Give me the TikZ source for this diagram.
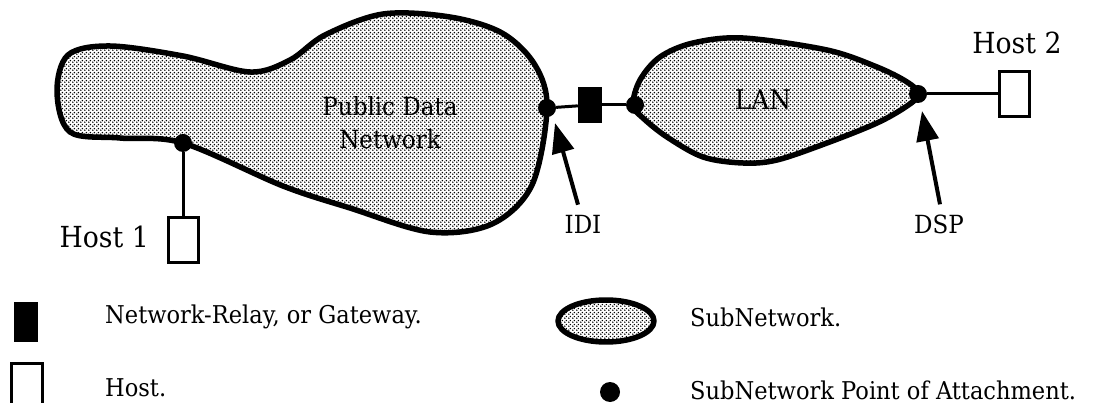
\documentclass[tikz,border=0pt]{standalone}
\usepackage{fontspec}
\setmainfont{DejaVu Serif}[FakeStretch=0.92]
\usetikzlibrary{arrows.meta,patterns.meta}
\tikzdeclarepattern{
  name=halftone,
  type=uncolored,
  bounding box={(0pt,0pt) and (4pt,4pt)},
  tile size={(4pt,4pt)},
  code={\fill (1pt,1pt) circle (0.95pt); \fill (3pt,3pt) circle (0.95pt);}
}
\begin{document}
\begin{tikzpicture}[x=1pt,y=-1pt,
  subnet/.style={draw=black, line width=5.5pt, pattern=halftone, pattern color=black, line join=round},
  attach/.style={circle, fill=black, inner sep=0pt, minimum size=18pt},
  hostbox/.style={draw=black, line width=3pt, fill=white, inner sep=0pt, minimum width=30pt, minimum height=45pt},
  relay/.style={fill=black, inner sep=0pt, minimum width=24pt, minimum height=36pt},
  link/.style={line width=3pt},
  pointer/.style={line width=4pt, -{Triangle[length=30pt,width=22pt]}},
  biglbl/.style={font=\fontsize{29}{33}\selectfont, inner sep=0pt},
  netlbl/.style={font=\fontsize{25}{33}\selectfont, inner sep=0pt, align=center},
  lanlbl/.style={font=\fontsize{27}{30}\selectfont, inner sep=0pt},
  ptrlbl/.style={font=\fontsize{25}{28}\selectfont, inner sep=0pt},
  leglbl/.style={font=\fontsize{24.5}{28}\selectfont, inner sep=0pt, anchor=west}
]
\useasboundingbox (0,0) rectangle (1111,403);
% Public Data Network
\draw[subnet] plot[smooth cycle, tension=0.55] coordinates {(547,108) (535,65) (502,33) (450,17) (383,14) (325,35) (290,60) (250,72) (183,56) (110,46) (68,55) (57,92) (70,132) (120,138) (183,143) (283,186) (350,208) (430,232) (492,224) (532,185)};
\node[netlbl] (pdnlbl) at (390,123) {Public Data\\Network};
% LAN
\draw[subnet] plot[smooth cycle, tension=0.55] coordinates {(633,105) (640,80) (660,57) (693,43) (743,38) (827,50) (877,67) (907,82) (919,94) (907,106) (877,123) (827,143) (777,160) (743,163) (703,157) (667,137) (643,118)};
\node[lanlbl] (lanlbl) at (763,100) {LAN};
% attachment points
\node[attach] (h1dot) at (183,143) {};
\node[attach] (ididot) at (547,108) {};
\node[attach] (landot) at (635,105) {};
\node[attach] (dspdot) at (918,94) {};
% gateway and hosts
\node[relay] (gw) at (590,105) {};
\node[hostbox] (host1) at (183,240) {};
\node[hostbox] (host2) at (1014,94) {};
\node[biglbl, anchor=east] (h1lbl) at (149,237) {Host 1};
\node[biglbl] (h2lbl) at (1017,43) {Host 2};
\draw[link] (ididot) -- (gw);
\draw[link] (gw) -- (landot);
\draw[link] (h1dot) -- (host1);
\draw[link] (dspdot) -- (host2);
% pointers
\node[ptrlbl] (idilbl) at (583,224) {IDI};
\node[ptrlbl] (dsplbl) at (939,224) {DSP};
\coordinate (iditip) at (555,123);
\coordinate (dsptip) at (922,111);
\draw[pointer] ([xshift=-5pt,yshift=10pt]idilbl.north) -- (iditip);
\draw[pointer] ([xshift=1pt,yshift=10pt]dsplbl.north) -- (dsptip);
% legend
\node[relay, minimum height=39pt] (legrelay) at (26,322) {};
\node[leglbl] (legrelaylbl) at (105,317) {Network-Relay, or Gateway.};
\node[hostbox, minimum width=31pt] (leghost) at (27,386) {};
\node[leglbl] (leghostlbl) at (105,388) {Host.};
\draw[subnet] (606,321) ellipse [x radius=48, y radius=21];
\node[leglbl] (legsubnetlbl) at (690,317) {SubNetwork.};
\node[attach, minimum size=20pt] (legdot) at (610,392) {};
\node[leglbl] (legdotlbl) at (690,390) {SubNetwork Point of Attachment.};
\end{tikzpicture}
\end{document}
